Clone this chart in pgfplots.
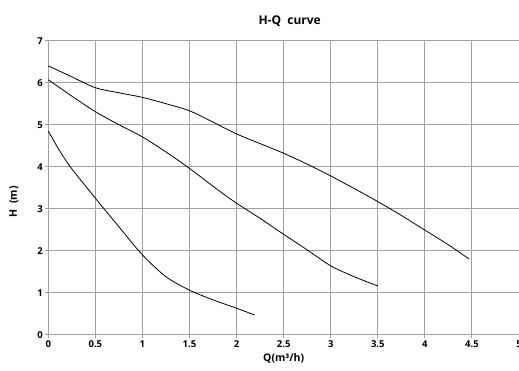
\documentclass[border=0pt]{standalone}
\usepackage{pgfplots}
\pgfplotsset{compat=1.18}
\usepackage{fontspec}
\setmainfont{Open Sans}
\definecolor{gridc}{RGB}{160,160,160}
\begin{document}
\begin{tikzpicture}
\begin{axis}[
  width=470.7pt, height=294pt, scale only axis,
  xmin=0, xmax=5, ymin=0, ymax=7,
  xtick={0,0.5,1,1.5,2,2.5,3,3.5,4,4.5,5},
  ytick={0,1,2,3,4,5,6,7},
  grid=major,
  major grid style={gridc, line width=0.9pt},
  axis line style={gridc, line width=0.9pt},
  tick style={gridc, line width=0.9pt},
  tick align=outside, major tick length=3.5pt,
  xtick pos=bottom, ytick pos=left,
  /pgf/number format/assume math mode=true,
  ticklabel style={font=\bfseries\fontsize{9.5}{10}\selectfont},
  xticklabel style={yshift=1pt},
  yticklabel style={xshift=1.5pt},
  title={H-Q\ \ curve},
  title style={font=\bfseries\fontsize{12}{14}\selectfont, yshift=5pt, xshift=6pt},
  xlabel={Q(m³/h)},
  ylabel={H\ \ (m)},
  label style={font=\bfseries\fontsize{10.5}{12}\selectfont},
  xlabel style={yshift=1pt},
  ylabel style={yshift=12pt, xshift=-14pt},
  clip=false,
]
\addplot[black, line width=0.8pt, smooth, tension=0.5] coordinates {
 (0,6.40) (0.25,6.14) (0.5,5.88) (0.75,5.76) (1,5.65) (1.25,5.50) (1.5,5.33)
 (1.75,5.06) (2,4.78) (2.25,4.55) (2.5,4.32) (2.75,4.06) (3,3.78) (3.25,3.48)
 (3.5,3.17) (3.75,2.84) (4,2.49) (4.25,2.14) (4.47,1.80)};
\addplot[black, line width=0.8pt, smooth, tension=0.5] coordinates {
 (0,6.07) (0.25,5.68) (0.5,5.31) (0.75,5.00) (1,4.71) (1.25,4.35) (1.5,3.96)
 (1.8,3.45) (2,3.13) (2.25,2.77) (2.5,2.39) (2.75,2.02) (3,1.64) (3.25,1.38) (3.5,1.16)};
\addplot[black, line width=0.8pt, smooth, tension=0.5] coordinates {
 (0,4.85) (0.12,4.38) (0.25,3.95) (0.5,3.25) (0.75,2.57) (1,1.90) (1.25,1.38) (1.5,1.06)
 (1.75,0.83) (2,0.63) (2.19,0.47)};
\end{axis}
\pgfresetboundingbox
\path ([shift={(-48.3pt,-36.3pt)}]current axis.south west) rectangle ([shift={(0pt,40.7pt)}]current axis.north east);
\end{tikzpicture}
\end{document}
